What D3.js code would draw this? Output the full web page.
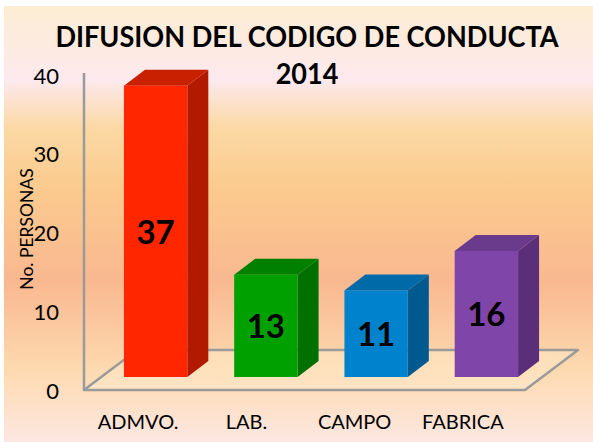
<!DOCTYPE html>
<html>
<head>
<meta charset="utf-8">
<script src="https://cdn.jsdelivr.net/npm/d3@7"></script>
<style>
  body { margin: 0; background: #fff; }
  text { font-family: Lato, "Open Sans", sans-serif; }
</style>
</head>
<body>
<div id="chart"></div>
<script>
// Data
var categories = ["ADMVO.", "LAB.", "CAMPO", "FABRICA"];
var values = [37, 13, 11, 16];
var yTicks = [0, 10, 20, 30, 40];
var frontColors = ["#ff2600", "#00a000", "#0082cc", "#8045a8"];
var sideColors = ["#b21a00", "#007000", "#005a90", "#5a2e78"];
var topColors = ["#c82000", "#008000", "#006aa8", "#6a3a8c"];

var svgWidth = 593;
var svgHeight = 442;

var svg = d3.select("#chart")
  .append("svg")
  .attr("width", svgWidth)
  .attr("height", svgHeight);

// Background gradient
var grad = svg.append("defs").append("linearGradient")
  .attr("id", "bg")
  .attr("x1", 0).attr("y1", 0).attr("x2", 0).attr("y2", 1);
[[0, "#fdedd3"], [0.17, "#fde9ee"], [0.28, "#fbd8a4"], [0.42, "#fbca8e"],
 [0.63, "#f9b890"], [0.84, "#fddab0"], [1, "#fde7e2"]].forEach(function(s) {
  grad.append("stop").attr("offset", s[0]).attr("stop-color", s[1]);
});

svg.append("rect")
  .attr("x", 4).attr("y", 6)
  .attr("width", 589).attr("height", 436)
  .attr("fill", "url(#bg)");

// Scales (front plane of the floor)
var xScale = d3.scaleBand()
  .domain(categories)
  .range([84, 525]);

var yScale = d3.scaleLinear()
  .domain([0, 40])
  .range([390, 75]);

// 3D offsets
var floorDepth = { dx: 53, dy: -40 };
var barShift = { dx: 16.5, dy: -13 };
var barDepth = { dx: 21, dy: -16 };
var barWidth = xScale.bandwidth() * 0.575;

var x0 = xScale.range()[0];
var x1 = xScale.range()[1];
var y0 = yScale(0);

function pts(arr) {
  return arr.map(function(p) { return p.join(","); }).join(" ");
}

// Floor
svg.append("polygon")
  .attr("points", pts([
    [x0, y0], [x1, y0],
    [x1 + floorDepth.dx, y0 + floorDepth.dy],
    [x0 + floorDepth.dx, y0 + floorDepth.dy]
  ]))
  .attr("fill", "rgba(255,240,215,0.35)")
  .attr("stroke", "#9a9a9a")
  .attr("stroke-width", 2.5)
  .attr("stroke-linejoin", "round");

// Y axis line
svg.append("line")
  .attr("x1", x0).attr("x2", x0)
  .attr("y1", y0).attr("y2", yScale(40) - 2)
  .attr("stroke", "#9a9a9a")
  .attr("stroke-width", 2.5);

// Tick labels
svg.selectAll(".tick")
  .data(yTicks)
  .enter()
  .append("text")
  .attr("x", 59)
  .attr("y", d => yScale(d) + 3)
  .attr("text-anchor", "end")
  .attr("dominant-baseline", "middle")
  .attr("font-size", 22)
  .attr("fill", "#000")
  .text(d => d);

// Bars
var bars = svg.selectAll(".bar")
  .data(values)
  .enter()
  .append("g")
  .attr("class", "bar");

function barGeom(d, i) {
  var left = xScale(categories[i]) + (xScale.bandwidth() - barWidth) / 2 + barShift.dx;
  var right = left + barWidth;
  var bottom = y0 + barShift.dy;
  var top = yScale(d) + barShift.dy;
  return { left: left, right: right, bottom: bottom, top: top };
}

bars.append("polygon")
  .attr("points", function(d, i) {
    var g = barGeom(d, i);
    return pts([[g.right, g.bottom], [g.right, g.top],
      [g.right + barDepth.dx, g.top + barDepth.dy],
      [g.right + barDepth.dx, g.bottom + barDepth.dy]]);
  })
  .attr("fill", (d, i) => sideColors[i]);

bars.append("polygon")
  .attr("points", function(d, i) {
    var g = barGeom(d, i);
    return pts([[g.left, g.top], [g.right, g.top],
      [g.right + barDepth.dx, g.top + barDepth.dy],
      [g.left + barDepth.dx, g.top + barDepth.dy]]);
  })
  .attr("fill", (d, i) => topColors[i]);

bars.append("rect")
  .attr("x", (d, i) => barGeom(d, i).left)
  .attr("y", (d, i) => barGeom(d, i).top)
  .attr("width", barWidth)
  .attr("height", (d, i) => barGeom(d, i).bottom - barGeom(d, i).top)
  .attr("fill", (d, i) => frontColors[i]);

// Value labels
bars.append("text")
  .attr("x", (d, i) => barGeom(d, i).left + barWidth / 2)
  .attr("y", (d, i) => (barGeom(d, i).top + barGeom(d, i).bottom) / 2 + 4)
  .attr("text-anchor", "middle")
  .attr("dominant-baseline", "middle")
  .attr("font-size", 33)
  .attr("font-weight", "bold")
  .attr("fill", "#000")
  .text(d => d);

// Category labels
svg.selectAll(".cat")
  .data(categories)
  .enter()
  .append("text")
  .attr("x", (d, i) => xScale(d) + xScale.bandwidth() / 2 - 1 - i * 2)
  .attr("y", 429)
  .attr("text-anchor", "middle")
  .attr("font-size", 20)
  .attr("fill", "#000")
  .text(d => d);

// Axis title
svg.append("text")
  .attr("transform", "translate(33, 229) rotate(-90)")
  .attr("text-anchor", "middle")
  .attr("font-size", 17.5)
  .attr("fill", "#000")
  .text("No. PERSONAS");

// Title (stretched a little vertically, Calibri is taller than Lato)
var title = svg.append("text")
  .attr("x", 0)
  .attr("y", 0)
  .attr("text-anchor", "middle")
  .attr("transform", "translate(307, 47) scale(1, 1.08)")
  .attr("font-size", 25)
  .attr("font-weight", "bold")
  .attr("fill", "#000")
  .text("DIFUSION DEL CODIGO DE CONDUCTA");
var tw = title.node().getComputedTextLength();
title.attr("font-size", 25 * 503 / tw);

svg.append("text")
  .attr("x", 0)
  .attr("y", 0)
  .attr("text-anchor", "middle")
  .attr("transform", "translate(307, 84) scale(1, 1.08)")
  .attr("font-size", 27)
  .attr("font-weight", "bold")
  .attr("fill", "#000")
  .text("2014");
</script>
</body>
</html>
